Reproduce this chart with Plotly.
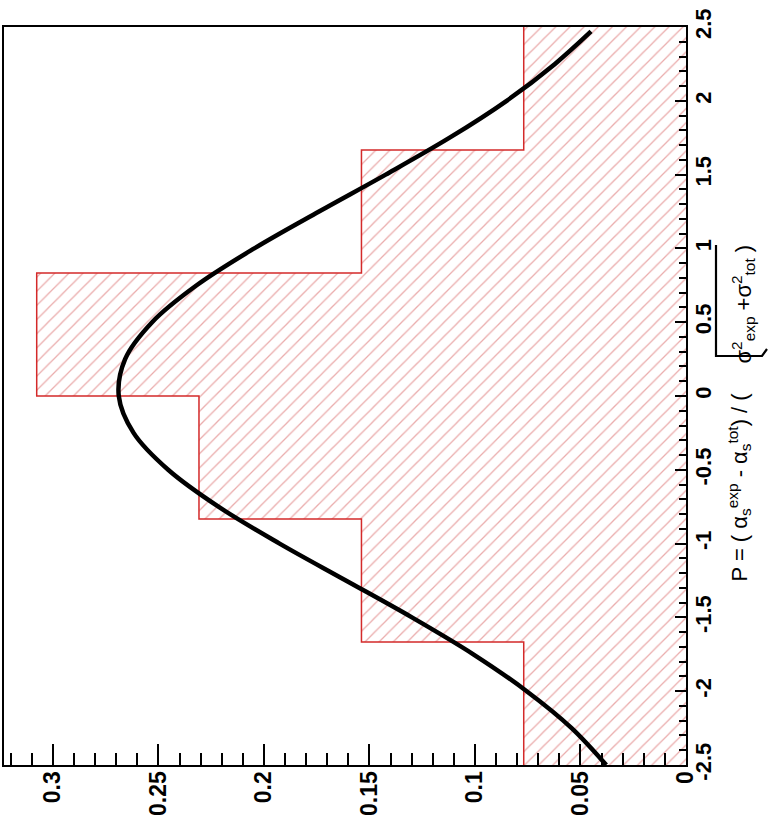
import plotly.graph_objects as go

# ---- data ----
bin_edges = [-2.5, -1.6667, -0.8333, 0.0, 0.8333, 1.6667, 2.5]
bin_values = [0.0769, 0.1538, 0.2308, 0.3077, 0.1538, 0.0769]

curve_p = [-2.5, -2.25, -2.0, -1.75, -1.5, -1.25, -1.0, -0.75, -0.5, -0.25, 0.0,
           0.25, 0.5, 0.75, 1.0, 1.25, 1.5, 1.75, 2.0, 2.25, 2.47]
curve_f = [0.0378, 0.0542, 0.0755, 0.1008, 0.1299, 0.1612, 0.1926, 0.2216, 0.2454, 0.2618, 0.2688,
           0.2658, 0.2530, 0.2319, 0.2046, 0.1739, 0.1423, 0.1120, 0.0850, 0.0621, 0.0450]

x_tick_vals = [0.0, 0.05, 0.1, 0.15, 0.2, 0.25, 0.3]
x_tick_text = ["0", "0.05", "0.1", "0.15", "0.2", "0.25", "0.3"]
y_tick_vals = [-2.5, -2.0, -1.5, -1.0, -0.5, 0.0, 0.5, 1.0, 1.5, 2.0, 2.5]
y_tick_text = ["-2.5", "-2", "-1.5", "-1", "-0.5", "0", "0.5", "1", "1.5", "2", "2.5"]

# ---- geometry helpers (page pixels -> paper coords) ----
W, H = 770, 830
ML, MR, MT, MB = 4, 84, 27, 65
PW, PH = W - ML - MR, H - MT - MB


def px(x):
    return (x - ML) / PW


def py(y):
    return (H - MB - y) / PH


# ---- build ----
centers = [(a + b) / 2 for a, b in zip(bin_edges[:-1], bin_edges[1:])]
widths = [b - a for a, b in zip(bin_edges[:-1], bin_edges[1:])]

step_x, step_y = [], []
for i, v in enumerate(bin_values):
    step_x += [v, v]
    step_y += [bin_edges[i], bin_edges[i + 1]]

fig = go.Figure()
fig.add_trace(go.Bar(
    orientation="h", y=centers, x=bin_values, width=widths, base=0,
    marker=dict(color="white", line=dict(width=0),
                pattern=dict(shape="/", fgcolor="#d65a5a", bgcolor="white", size=10, solidity=0.13)),
    hoverinfo="skip"))
fig.add_trace(go.Scatter(x=step_x, y=step_y, mode="lines",
                         line=dict(color="#d42a2a", width=1.5), hoverinfo="skip"))
fig.add_trace(go.Scatter(x=curve_f, y=curve_p, mode="lines",
                         line=dict(color="black", width=4.5, shape="spline", smoothing=1.0),
                         hoverinfo="skip"))

tickfont_b = dict(family="Liberation Sans, Arial, sans-serif", size=23, color="black", weight="bold")

fig.update_layout(
    width=W, height=H,
    margin=dict(l=ML, r=MR, t=MT, b=MB, autoexpand=False),
    paper_bgcolor="white", plot_bgcolor="white",
    showlegend=False, bargap=0,
    xaxis=dict(range=[0.3232, 0], tickmode="array", tickvals=x_tick_vals, ticktext=x_tick_text,
               tickangle=-90, ticks="inside", ticklen=21, tickwidth=1.5, tickcolor="black",
               ticklabelstandoff=-5,
               minor=dict(tickmode="linear", tick0=0, dtick=0.01, ticks="inside", ticklen=12,
                          tickwidth=1.5, tickcolor="black"),
               showline=True, linecolor="black", linewidth=2, mirror=True,
               showgrid=False, zeroline=False, tickfont=tickfont_b),
    yaxis=dict(range=[-2.5, 2.5], side="right", tickmode="array", tickvals=y_tick_vals,
               ticktext=y_tick_text, tickangle=-90, ticks="inside", ticklen=11, tickwidth=1.5,
               tickcolor="black", ticklabelstandoff=-3,
               minor=dict(tickmode="linear", tick0=0, dtick=0.1, ticks="inside", ticklen=7,
                          tickwidth=1.5, tickcolor="black"),
               showline=True, linecolor="black", linewidth=2, mirror=True,
               showgrid=False, zeroline=False, tickfont=dict(tickfont_b, size=22)),
)

title_font = dict(family="Liberation Sans, Arial, sans-serif", size=22, color="black")
title_a = "P = ( α<sub>s</sub><sup>exp</sup> - α<sub>s</sub><sup>tot</sup>) / ("
title_b = "σ<sup>2</sup><sub>exp</sub> +σ<sup>2</sup><sub>tot</sub> )"
fig.add_annotation(text=title_a, textangle=-90, xref="paper", yref="paper", x=px(739), y=py(584),
                   showarrow=False, xanchor="center", yanchor="bottom", font=title_font)
fig.add_annotation(text=title_b, textangle=-90, xref="paper", yref="paper", x=px(743), y=py(243),
                   showarrow=False, xanchor="center", yanchor="top", font=title_font)

# radical sign of the axis title
rad = (f"M {px(767)} {py(349)} L {px(762)} {py(356)} L {px(716)} {py(356)} "
       f"L {px(716)} {py(245)}")
fig.add_shape(type="path", path=rad, xref="paper", yref="paper",
              line=dict(color="black", width=2.2))

fig.write_html("out.html", config={"displayModeBar": False},
               post_script="document.body.style.margin='0px';")
